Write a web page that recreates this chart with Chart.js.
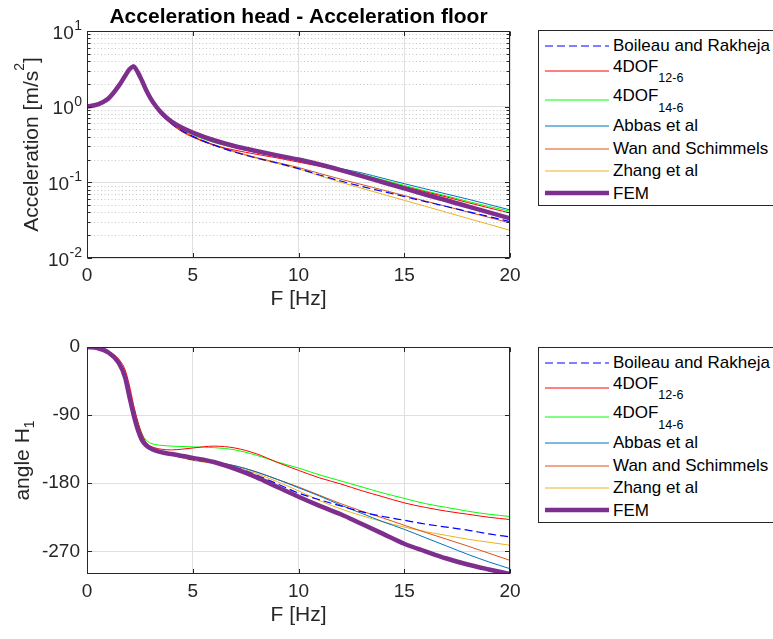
<!DOCTYPE html>
<html>
<head>
<meta charset="utf-8">
<script src="https://cdn.jsdelivr.net/npm/chart.js@4.4.0/dist/chart.umd.min.js"></script>
<style>
  html, body { margin: 0; padding: 0; background: #fff; }
  body { position: relative; width: 773px; height: 639px; overflow: hidden; font-family: 'Liberation Sans', Arial, Helvetica, sans-serif; }
  canvas { position: absolute; left: 0; }
  .leg { position: absolute; width: 250px; height: 174px; border: 1px solid #262626; background: #fff; }
  .leg .txt { position: absolute; left: 74px; font-size: 17px; line-height: 20px; color: #000; white-space: nowrap; }
  .leg .txt span.sub { font-size: 12.5px; position: relative; top: 10.5px; vertical-align: baseline; }
  .leg svg { position: absolute; left: 6px; }
</style>
</head>
<body>
<canvas id="c1" width="597" height="320" style="top:0px"></canvas>
<canvas id="c2" width="597" height="316" style="top:320px"></canvas>
<div id="leg1" class="leg" style="left:538px; top:30px"></div>
<div id="leg2" class="leg" style="left:538px; top:347px"></div>
<script>
// ---------------- data ----------------
const FREQ = [0, 0.5, 1, 1.5, 1.8, 2, 2.2, 2.4, 2.6, 2.8, 3, 3.25, 3.5, 3.75, 4, 4.5, 5, 6, 7, 8, 9, 10, 11, 12, 13, 14, 15, 16, 17, 18, 19, 20];

const SERIES_NAMES = ['Boileau and Rakheja', '4DOF', '4DOF', 'Abbas et al', 'Wan and Schimmels', 'Zhang et al', 'FEM'];
const SERIES_SUBS  = ['', '12-6', '14-6', '', '', '', ''];

// magnitude |a_head / a_floor|
const MAG_BOILEAU = [1.0, 1.07, 1.27, 1.88, 2.55, 3.1, 3.4, 2.85, 2.15, 1.62, 1.27, 0.98, 0.8, 0.68, 0.595, 0.48, 0.405, 0.31, 0.25, 0.21, 0.18, 0.152, 0.125, 0.104, 0.088, 0.0757, 0.0649, 0.0557, 0.0479, 0.0411, 0.0353, 0.0303];
const MAG_4DOF126 = [1.0, 1.07, 1.27, 1.85, 2.45, 2.95, 3.35, 3.0, 2.3, 1.7, 1.3, 0.99, 0.8, 0.675, 0.585, 0.465, 0.395, 0.31, 0.266, 0.235, 0.21, 0.185, 0.163, 0.143, 0.123, 0.105, 0.088, 0.075, 0.064, 0.054, 0.046, 0.0394];
const MAG_4DOF146 = [1.0, 1.07, 1.27, 1.86, 2.5, 3.0, 3.25, 2.85, 2.15, 1.6, 1.26, 0.99, 0.81, 0.69, 0.605, 0.495, 0.425, 0.335, 0.287, 0.25, 0.22, 0.193, 0.17, 0.148, 0.127, 0.108, 0.091, 0.077, 0.066, 0.056, 0.048, 0.0415];
const MAG_ABBAS   = [1.0, 1.07, 1.28, 1.9, 2.6, 3.2, 3.55, 2.9, 2.2, 1.63, 1.27, 1.0, 0.82, 0.7, 0.615, 0.505, 0.44, 0.345, 0.288, 0.248, 0.218, 0.193, 0.172, 0.152, 0.133, 0.113, 0.096, 0.082, 0.07, 0.06, 0.051, 0.0432];
const MAG_WAN     = [1.0, 1.07, 1.27, 1.88, 2.55, 3.1, 3.4, 2.85, 2.15, 1.62, 1.27, 0.98, 0.8, 0.68, 0.595, 0.485, 0.405, 0.315, 0.255, 0.213, 0.183, 0.157, 0.131, 0.11, 0.0933, 0.079, 0.0669, 0.0566, 0.048, 0.0406, 0.0344, 0.0291];
const MAG_ZHANG   = [1.0, 1.07, 1.27, 1.88, 2.55, 3.1, 3.4, 2.85, 2.15, 1.62, 1.27, 0.98, 0.8, 0.68, 0.595, 0.48, 0.402, 0.31, 0.25, 0.208, 0.177, 0.15, 0.122, 0.10, 0.0833, 0.0694, 0.0578, 0.0482, 0.0402, 0.0334, 0.0279, 0.0232];
const MAG_FEM     = [1.0, 1.07, 1.27, 1.88, 2.55, 3.1, 3.4, 2.85, 2.2, 1.65, 1.3, 1.02, 0.84, 0.72, 0.635, 0.525, 0.455, 0.36, 0.30, 0.26, 0.227, 0.2, 0.172, 0.145, 0.121, 0.10, 0.083, 0.069, 0.058, 0.048, 0.04, 0.0335];

// phase angle H1 [deg]
const PH_BOILEAU = [0, -1.5, -7, -21, -40, -65, -90, -109, -123, -130, -134.5, -137.5, -139.5, -141, -142.5, -146, -149, -153, -159, -169, -181, -193, -202, -210, -218, -224, -229, -234, -238, -242, -247, -251];
const PH_4DOF126 = [0, -1.2, -5.5, -16, -30, -50, -76, -98, -115, -126, -131, -133.5, -135, -135.8, -136, -135, -133.5, -131, -133.5, -141, -152.5, -163, -173, -181, -190, -198, -206, -212, -217, -221, -225, -228];
const PH_4DOF146 = [0, -1.2, -6, -18, -34, -55, -80, -100, -115, -123, -127, -129, -130, -130.5, -131, -131.5, -132, -133, -136, -143, -152, -160, -169, -177, -185, -193, -200, -207, -212, -217, -221, -224];
const PH_ABBAS   = [0, -1.5, -7, -21, -40, -65, -90, -109, -123, -130, -134, -137, -139, -140.5, -142, -145, -148, -152, -157, -165, -175, -186, -197, -209, -220, -231, -241, -252, -263, -274, -284, -293];
const PH_WAN     = [0, -1.5, -7, -21, -40, -65, -90, -109, -123, -130, -134, -137, -139.5, -141, -142.5, -145.5, -148, -152, -157, -165, -175, -185, -196, -207, -217, -226, -235.6, -245, -254, -263, -272.5, -282];
const PH_ZHANG   = [0, -1.5, -7, -21, -40, -65, -90, -109, -123, -130, -134.5, -137.5, -140, -141.5, -143, -146.5, -150, -154, -159, -167, -178, -190, -203, -214, -223, -231, -238, -244, -249, -254, -258, -262];
const PH_FEM     = [0, -1.5, -7, -21, -40, -65, -89, -109, -123, -130, -134, -137, -139, -140.5, -141.5, -144, -146.5, -152, -161, -172, -185, -198, -210, -221, -234, -247, -260, -270, -279.5, -287.5, -294, -300];

const X_TICKS = [0, 5, 10, 15, 20];
const MAG_TICKS = [0.01, 0.1, 1, 10];
const PH_TICKS = [-270, -180, -90, 0];

// ---------------- styles ----------------
const FONT = "'Liberation Sans', Arial, Helvetica, sans-serif";
const AXC = '#262626';
const STYLES = [
  { color: '#0000ff', width: 1.2, dash: [8, 4] },
  { color: '#ff0000', width: 1, dash: [] },
  { color: '#00ff00', width: 1, dash: [] },
  { color: '#0072BD', width: 1, dash: [] },
  { color: '#D95319', width: 1, dash: [] },
  { color: '#EDB120', width: 1, dash: [] },
  { color: '#7E2F8E', width: 4.5, dash: [] }
];
const LEG_ROW_Y = [15.5, 40.5, 70.2, 95.7, 118.5, 140.8, 163.3];

Chart.defaults.font.family = FONT;
Chart.defaults.color = AXC;

function buildDatasets(arrays) {
  return arrays.map((arr, i) => ({
    label: SERIES_NAMES[i] + SERIES_SUBS[i],
    data: FREQ.map((f, k) => ({ x: f, y: arr[k] })),
    borderColor: STYLES[i].color,
    backgroundColor: STYLES[i].color,
    borderWidth: STYLES[i].width,
    borderDash: STYLES[i].dash,
    pointRadius: 0,
    fill: false,
    cubicInterpolationMode: 'monotone',
    order: i === 6 ? 0 : 1
  }));
}

function drawRotatedRich(ctx, parts, baseX, centerY) {
  ctx.save();
  ctx.translate(baseX, centerY);
  ctx.rotate(-Math.PI / 2);
  ctx.textBaseline = 'alphabetic';
  ctx.textAlign = 'left';
  let total = 0;
  parts.forEach(p => { ctx.font = p.size + 'px ' + FONT; p.w = ctx.measureText(p.t).width; total += p.w; });
  let x = -total / 2;
  parts.forEach(p => {
    ctx.font = p.size + 'px ' + FONT;
    ctx.fillStyle = AXC;
    ctx.fillText(p.t, x, p.dy || 0);
    x += p.w;
  });
  ctx.restore();
}

function axesPlugin(isLog, yTitleParts, yTitleBaseX) {
  const minors = [];
  if (isLog) {
    for (let e = -2; e <= 0; e++) for (let k = 2; k <= 9; k++) minors.push(k * Math.pow(10, e));
  }
  return {
    id: 'matlabAxes',
    beforeDatasetsDraw(chart) {
      if (!isLog) return;
      const { ctx, chartArea: a, scales: { y } } = chart;
      ctx.save();
      ctx.strokeStyle = '#c6c6c6';
      ctx.lineWidth = 1;
      ctx.setLineDash([1, 2.5]);
      minors.forEach(v => {
        const py = Math.round(y.getPixelForValue(v)) + 0.5;
        ctx.beginPath(); ctx.moveTo(a.left, py); ctx.lineTo(a.right, py); ctx.stroke();
      });
      ctx.restore();
    },
    afterDatasetsDraw(chart) {
      const { ctx, chartArea: a, scales: { x, y } } = chart;
      ctx.save();
      ctx.strokeStyle = AXC;
      ctx.lineWidth = 1;
      ctx.setLineDash([]);
      const L = Math.round(a.left) + 0.5, R = Math.round(a.right) - 0.5;
      const T = Math.round(a.top) + 0.5, B = Math.round(a.bottom) - 0.5;
      ctx.strokeRect(L, T, R - L, B - T);
      ctx.beginPath();
      const tl = 4.5;
      x.ticks.forEach(t => {
        const px = Math.round(x.getPixelForValue(t.value)) + 0.5;
        ctx.moveTo(px, B); ctx.lineTo(px, B - tl);
        ctx.moveTo(px, T); ctx.lineTo(px, T + tl);
      });
      const yv = y.ticks.map(t => t.value).concat(minors);
      yv.forEach(v => {
        const py = Math.round(y.getPixelForValue(v)) + 0.5;
        const len = minors.includes(v) ? 3 : tl;
        ctx.moveTo(L, py); ctx.lineTo(L + len, py);
        ctx.moveTo(R, py); ctx.lineTo(R - len, py);
      });
      ctx.stroke();
      ctx.restore();
    },
    afterDraw(chart) {
      const { ctx, chartArea: a, scales: { y } } = chart;
      if (isLog) {
        ctx.save();
        ctx.fillStyle = AXC;
        ctx.textBaseline = 'alphabetic';
        ctx.textAlign = 'left';
        y.ticks.forEach(t => {
          const e = Math.round(Math.log10(t.value));
          const es = String(e);
          const py = y.getPixelForValue(t.value);
          ctx.font = '14px ' + FONT;
          const ew = ctx.measureText(es).width;
          ctx.font = '19px ' + FONT;
          const bw = ctx.measureText('10').width;
          const right = 82;
          ctx.fillText('10', right - ew - bw - 0.5, py + 7.6);
          ctx.font = '14px ' + FONT;
          ctx.fillText(es, right - ew, py - 1);
        });
        ctx.restore();
      }
      drawRotatedRich(ctx, yTitleParts, yTitleBaseX, (a.top + a.bottom) / 2);
    }
  };
}

function commonX() {
  return {
    type: 'linear', min: 0, max: 20,
    afterBuildTicks: s => { s.ticks = X_TICKS.map(v => ({ value: v })); },
    afterFit: s => { s.height = 62; },
    grid: { color: '#dfdfdf', drawTicks: false, lineWidth: 1 },
    border: { display: false },
    ticks: { font: { size: 19 }, color: AXC, padding: 6.5, maxRotation: 0, autoSkip: false },
    title: { display: true, text: 'F [Hz]', font: { size: 21 }, color: AXC, padding: { top: 0, bottom: 8.4 } }
  };
}

// ---------------- chart 1: magnitude ----------------
new Chart(document.getElementById('c1'), {
  type: 'line',
  data: { datasets: buildDatasets([MAG_BOILEAU, MAG_4DOF126, MAG_4DOF146, MAG_ABBAS, MAG_WAN, MAG_ZHANG, MAG_FEM]) },
  options: {
    responsive: false, animation: false, devicePixelRatio: 1,
    layout: { padding: { left: 0, right: 87, top: 0, bottom: 0 } },
    plugins: {
      legend: { display: false }, tooltip: { enabled: false },
      title: {
        display: true, fullSize: false,
        text: 'Acceleration head - Acceleration floor',
        font: { size: 21, weight: 'bold', lineHeight: 1.2 }, color: '#000',
        padding: { top: 5, bottom: 0.8 }
      }
    },
    scales: {
      x: commonX(),
      y: {
        type: 'logarithmic', min: 0.01, max: 10,
        afterBuildTicks: s => { s.ticks = MAG_TICKS.map(v => ({ value: v, major: true })); },
        afterFit: s => { s.width = 87; },
        grid: { color: '#dfdfdf', drawTicks: false },
        border: { display: false },
        ticks: { display: false }
      }
    }
  },
  plugins: [axesPlugin(true, [
    { t: 'Acceleration [m/s', size: 21 },
    { t: '2', size: 14, dy: -14 },
    { t: ']', size: 21 }
  ], 38)]
});

// ---------------- chart 2: phase ----------------
new Chart(document.getElementById('c2'), {
  type: 'line',
  data: { datasets: buildDatasets([PH_BOILEAU, PH_4DOF126, PH_4DOF146, PH_ABBAS, PH_WAN, PH_ZHANG, PH_FEM]) },
  options: {
    responsive: false, animation: false, devicePixelRatio: 1,
    layout: { padding: { left: 0, right: 87, top: 27, bottom: 0 } },
    plugins: { legend: { display: false }, tooltip: { enabled: false } },
    scales: {
      x: commonX(),
      y: {
        type: 'linear', min: -300, max: 0,
        afterBuildTicks: s => { s.ticks = PH_TICKS.map(v => ({ value: v })); },
        afterFit: s => { s.width = 87; },
        grid: { color: '#dfdfdf', drawTicks: false },
        border: { display: false },
        ticks: { font: { size: 19 }, color: AXC, padding: 7 }
      }
    }
  },
  plugins: [axesPlugin(false, [
    { t: 'angle H', size: 21 },
    { t: '1', size: 14, dy: 5 }
  ], 28.5)]
});

// ---------------- legends (HTML, built from the same series) ----------------
function buildLegend(el) {
  SERIES_NAMES.forEach((name, i) => {
    const st = STYLES[i];
    const yc = LEG_ROW_Y[i] - 1;
    const svgNS = 'http://www.w3.org/2000/svg';
    const svg = document.createElementNS(svgNS, 'svg');
    svg.setAttribute('width', '64'); svg.setAttribute('height', '10');
    svg.style.top = (yc - 5) + 'px';
    const ln = document.createElementNS(svgNS, 'line');
    ln.setAttribute('x1', '0'); ln.setAttribute('x2', '64');
    ln.setAttribute('y1', '5'); ln.setAttribute('y2', '5');
    ln.setAttribute('stroke', st.color);
    ln.setAttribute('stroke-width', String(st.width));
    if (st.dash.length) ln.setAttribute('stroke-dasharray', st.dash.join(' '));
    svg.appendChild(ln);
    el.appendChild(svg);

    const d = document.createElement('div');
    d.className = 'txt';
    const hasSub = SERIES_SUBS[i] !== '';
    const baseline = yc + 6.1 - (hasSub ? 4.2 : 0);
    d.style.top = (baseline - 15.9) + 'px';
    d.appendChild(document.createTextNode(name));
    if (hasSub) {
      const s = document.createElement('span');
      s.className = 'sub';
      s.textContent = SERIES_SUBS[i];
      d.appendChild(s);
    }
    el.appendChild(d);
  });
}
buildLegend(document.getElementById('leg1'));
buildLegend(document.getElementById('leg2'));
</script>
</body>
</html>
